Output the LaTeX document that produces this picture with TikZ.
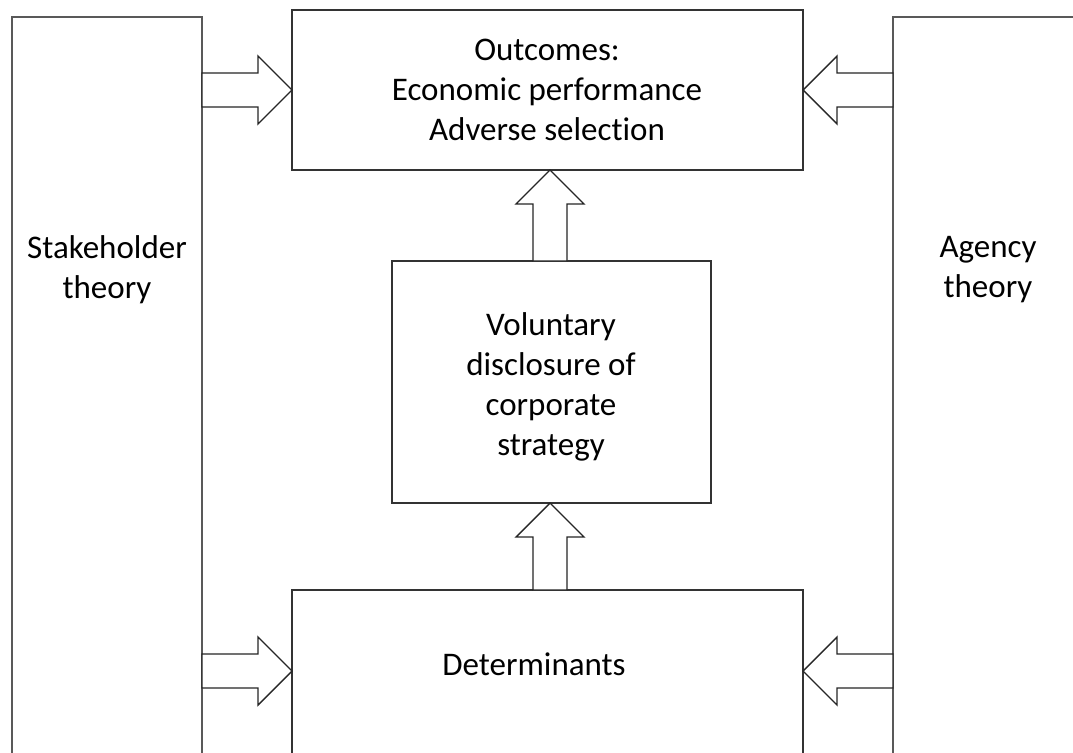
\documentclass[tikz,border=0pt]{standalone}
\usepackage{fontspec}
\setmainfont{Carlito}[Ligatures=NoCommon]
\usetikzlibrary{calc}
\tikzset{
  box/.style={draw=black!65, line width=1.5pt, fill=none, inner sep=0pt, outer sep=0pt, rectangle},
  lbl/.style={align=center, font=\fontsize{33}{40}\selectfont, text=black, inner sep=0pt},
  barrowline/.style={draw=black!85, line width=1.4pt, line join=miter, fill=white}
}
\newcommand{\bkarrow}[2]{%
  \coordinate (bkC) at ($(#2)!34pt!(#1)$);
  \draw[barrowline]
    ($(#1)!17pt!90:(#2)$) -- ($(bkC)!17pt!90:(#2)$) -- ($(bkC)!34pt!90:(#2)$) --
    (#2) --
    ($(bkC)!34pt!-90:(#2)$) -- ($(bkC)!17pt!-90:(#2)$) -- ($(#1)!17pt!-90:(#2)$) -- cycle;
}
\begin{document}
\begin{tikzpicture}[x=1pt,y=-1pt]
\useasboundingbox (0,0) rectangle (1073,752);
\fill[white] (0,0) rectangle (1073,752);
\clip (0,0) rectangle (1073,752);

\node[box, minimum width=190pt, minimum height=800pt, anchor=north west] (stake) at (12,17) {};
\node[box, minimum width=190pt, minimum height=800pt, anchor=north west] (agency) at (893,17) {};
\node[box, draw=black!80, minimum width=511pt, minimum height=160pt, anchor=north west] (out) at (292,10) {};
\node[box, draw=black!80, minimum width=319pt, minimum height=242pt, anchor=north west] (mid) at (392,261) {};
\node[box, draw=black!80, minimum width=511pt, minimum height=300pt, anchor=north west] (det) at (292,590) {};

\node[lbl] (stakeT) at (107,270) {Stakeholder\\theory};
\node[lbl] (agencyT) at (988,270) {Agency\\theory};
\node[lbl] (outT) at (547,90) {Outcomes:\\Economic performance\\Adverse selection};
\node[lbl] (midT) at (551,387) {Voluntary\\disclosure of\\corporate\\strategy};
\node[lbl] (detT) at (534,664) {Determinants};

\coordinate (tlTail) at (stake.east |- out.west);
\bkarrow{tlTail}{out.west}
\coordinate (trTail) at (agency.west |- out.east);
\bkarrow{trTail}{out.east}

\coordinate (blTip) at ([yshift=-81pt]det.north west);
\coordinate (blTail) at (stake.east |- blTip);
\bkarrow{blTail}{blTip}
\coordinate (brTip) at ([yshift=-81pt]det.north east);
\coordinate (brTail) at (agency.west |- brTip);
\bkarrow{brTail}{brTip}

\coordinate (upTip) at ([xshift=-1.5pt]mid.north |- out.south);
\coordinate (upTail) at ([xshift=-1.5pt]mid.north);
\bkarrow{upTail}{upTip}
\coordinate (loTip) at ([xshift=-1.5pt]mid.south);
\coordinate (loTail) at ([xshift=-1.5pt]mid.south |- det.north);
\bkarrow{loTail}{loTip}
\end{tikzpicture}
\end{document}
